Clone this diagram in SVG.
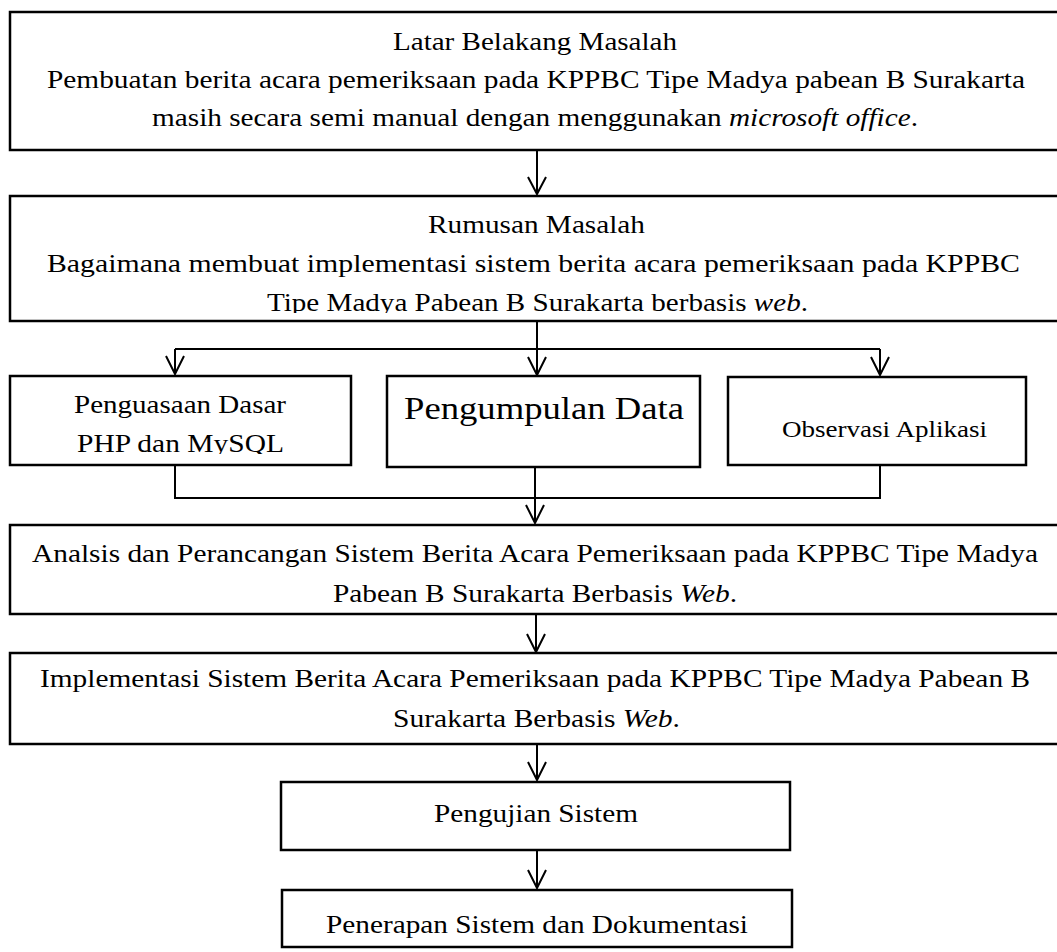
<svg xmlns="http://www.w3.org/2000/svg" width="1057" height="952" viewBox="0 0 1057 952" font-family="'Liberation Serif', 'Times New Roman', Times, serif">
<style>
.box{fill:#fff;stroke:#000;stroke-width:2.5}
.ln{fill:none;stroke:#000;stroke-width:2}
.ah{fill:none;stroke:#000;stroke-width:2;stroke-linejoin:miter}
text{font-family:'Liberation Serif','Times New Roman',Times,serif;font-size:26px;fill:#000}
.it{font-style:italic}
</style>
<defs>
<clipPath id="c2"><rect x="0" y="196" width="1057" height="117"/></clipPath>
<clipPath id="cA"><rect x="0" y="376" width="400" height="78"/></clipPath>
</defs>
<rect width="1057" height="952" fill="#fff"/>
<g id="connectors">
<path class="ln" d="M537 150V193"/>
<path class="ah" d="M528 177L537 194L546 177"/>
<path class="ln" d="M537 321V374M175 349H880M175 349V373M880 349V374"/>
<path class="ah" d="M528 357L537 375L546 357M166 356L175 374L184 356M871 357L880 375L889 357"/>
<path class="ln" d="M175 465V498H880V465M535 467V522"/>
<path class="ah" d="M526 505L535 523L544 505"/>
<path class="ln" d="M536 614V651"/>
<path class="ah" d="M527 634L536 652L545 634"/>
<path class="ln" d="M537 744V780"/>
<path class="ah" d="M528 762L537 780L546 762"/>
<path class="ln" d="M537 850V888"/>
<path class="ah" d="M528 870L537 888L546 870"/>
</g>
<g id="latar-belakang">
<rect class="box" x="10" y="12" width="1070" height="138"/>
<text font-family="Liberation Serif" x="393" y="50" textLength="284" lengthAdjust="spacingAndGlyphs">Latar Belakang Masalah</text>
<text font-family="Liberation Serif" x="47" y="88" textLength="978" lengthAdjust="spacingAndGlyphs">Pembuatan berita acara pemeriksaan pada KPPBC Tipe Madya pabean B Surakarta</text>
<text font-family="Liberation Serif" x="152" y="126" textLength="766" lengthAdjust="spacingAndGlyphs">masih secara semi manual dengan menggunakan <tspan class="it">microsoft office</tspan>.</text>
</g>
<g id="rumusan">
<rect class="box" x="10" y="196" width="1070" height="125"/>
<text font-family="Liberation Serif" x="428" y="233" textLength="217" lengthAdjust="spacingAndGlyphs">Rumusan Masalah</text>
<text font-family="Liberation Serif" x="47" y="272" textLength="973" lengthAdjust="spacingAndGlyphs">Bagaimana membuat implementasi sistem berita acara pemeriksaan pada KPPBC</text>
<text font-family="Liberation Serif" clip-path="url(#c2)" x="267" y="311" textLength="541" lengthAdjust="spacingAndGlyphs">Tipe Madya Pabean B Surakarta berbasis <tspan class="it">web</tspan>.</text>
</g>
<g id="penguasaan">
<rect class="box" x="10" y="376" width="341" height="89"/>
<text font-family="Liberation Serif" x="74" y="413" textLength="212" lengthAdjust="spacingAndGlyphs">Penguasaan Dasar</text>
<text font-family="Liberation Serif" clip-path="url(#cA)" x="77" y="452" textLength="207" lengthAdjust="spacingAndGlyphs">PHP dan MySQL</text>
</g>
<g id="pengumpulan">
<rect class="box" x="387" y="376" width="313" height="91"/>
<text font-family="Liberation Serif" x="404" y="419" textLength="280" lengthAdjust="spacingAndGlyphs" style="font-size:32px">Pengumpulan Data</text>
</g>
<g id="observasi">
<rect class="box" x="728" y="377" width="298" height="88"/>
<text font-family="Liberation Serif" x="782" y="437" textLength="205" lengthAdjust="spacingAndGlyphs" style="font-size:24px">Observasi Aplikasi</text>
</g>
<g id="analisis">
<rect class="box" x="10" y="525" width="1070" height="89"/>
<text font-family="Liberation Serif" x="32" y="562" textLength="1006" lengthAdjust="spacingAndGlyphs">Analsis dan Perancangan Sistem Berita Acara Pemeriksaan pada KPPBC Tipe Madya</text>
<text font-family="Liberation Serif" x="333" y="602" textLength="404" lengthAdjust="spacingAndGlyphs">Pabean B Surakarta Berbasis <tspan class="it">Web</tspan>.</text>
</g>
<g id="implementasi">
<rect class="box" x="10" y="653" width="1070" height="91"/>
<text font-family="Liberation Serif" x="40" y="687" textLength="990" lengthAdjust="spacingAndGlyphs">Implementasi Sistem Berita Acara Pemeriksaan pada KPPBC Tipe Madya Pabean B</text>
<text font-family="Liberation Serif" x="393" y="727" textLength="287" lengthAdjust="spacingAndGlyphs">Surakarta Berbasis <tspan class="it">Web</tspan>.</text>
</g>
<g id="pengujian">
<rect class="box" x="281" y="782" width="509" height="68"/>
<text font-family="Liberation Serif" x="434" y="822" textLength="204" lengthAdjust="spacingAndGlyphs">Pengujian Sistem</text>
</g>
<g id="penerapan">
<rect class="box" x="282" y="890" width="510" height="57"/>
<text font-family="Liberation Serif" x="326" y="933" textLength="422" lengthAdjust="spacingAndGlyphs">Penerapan Sistem dan Dokumentasi</text>
</g>
</svg>
